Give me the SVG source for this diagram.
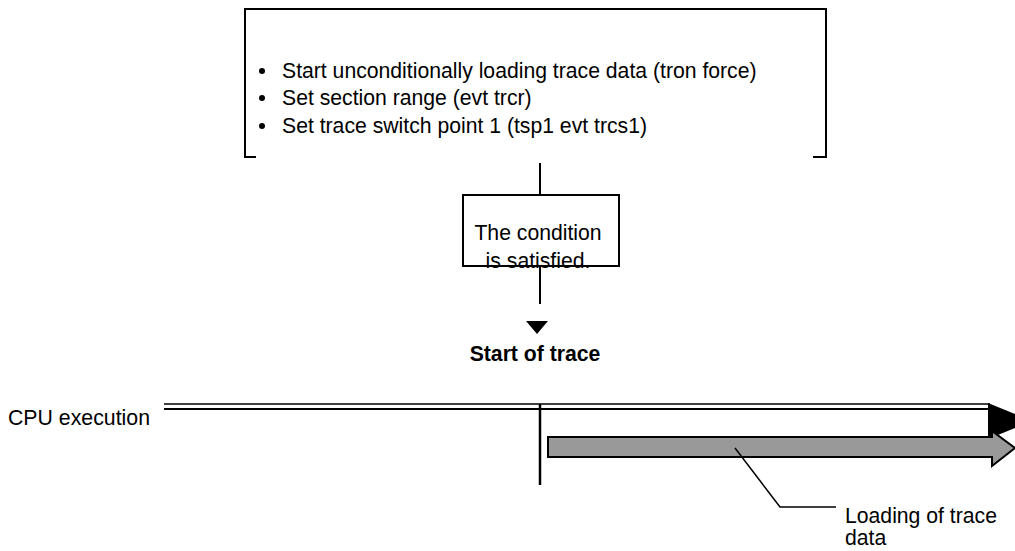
<svg xmlns="http://www.w3.org/2000/svg" width="1015" height="551" viewBox="0 0 1015 551">
<style>
text{font-family:"Liberation Sans",Arial,sans-serif;font-size:21.2px;fill:#000}
.b{font-weight:bold}
.ln{stroke:#000;fill:none;stroke-width:2}
.thin{stroke:#000;fill:none;stroke-width:1.5}
</style>
<rect width="1015" height="551" fill="#fff"/>
<g id="settings">
<path class="ln" d="M256,157 H245 V9 H826 V157 H813"/>
<circle cx="262" cy="71" r="3"/>
<circle cx="262" cy="98" r="3"/>
<circle cx="262" cy="126" r="3"/>
<text transform="translate(282,78) scale(1,1.08)">Start unconditionally loading trace data (tron force)</text>
<text transform="translate(282,105) scale(1,1.08)">Set section range (evt trcr)</text>
<text transform="translate(282,133) scale(1,1.08)">Set trace switch point 1 (tsp1 evt trcs1)</text>
</g>
<g id="condition">
<rect class="ln" x="463" y="195" width="156" height="71" fill="#fff"/>
<text transform="translate(538,240) scale(1,1.08)" text-anchor="middle">The condition</text>
<text transform="translate(538,268) scale(1,1.08)" text-anchor="middle">is satisfied.</text>
</g>
<g id="start">
<polygon points="526,321 548,321 537,334" fill="#000"/>
<text class="b" transform="translate(535,361) scale(1,1.08)" text-anchor="middle">Start of trace</text>
</g>
<g id="cpu">
<text transform="translate(8,425) scale(1,1.08)" textLength="142" lengthAdjust="spacingAndGlyphs">CPU execution</text>
<line class="thin" x1="164" y1="404" x2="990" y2="404"/>
<line class="ln" x1="164" y1="409" x2="990" y2="409"/>
<polygon points="988,403 1032,421 988,439" fill="#000"/>
</g>
<g id="loading">
<polygon points="548,437 992,437 992,431 1015,448 992,466 992,457 548,457" fill="#999" stroke="#000" stroke-width="2"/>
<text x="845" y="523">Loading of trace</text>
<text x="845" y="545">data</text>
</g>
<g id="connectors">
<line class="ln" x1="540" y1="163" x2="540" y2="195"/>
<line class="ln" x1="540" y1="266" x2="540" y2="304"/>
<line x1="540" y1="404" x2="540" y2="485" stroke="#000" stroke-width="2.5"/>
<polyline class="thin" points="735,448 780,507 836,507"/>
</g>
</svg>
